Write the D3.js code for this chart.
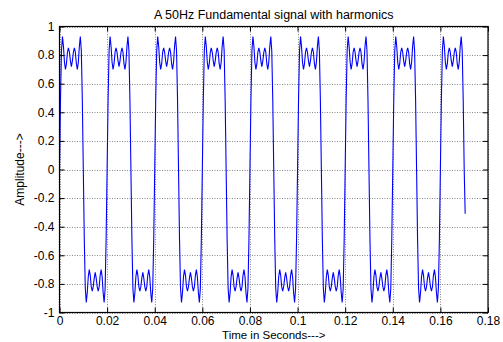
<!DOCTYPE html>
<html>
<head>
<meta charset="utf-8">
<script src="https://cdn.jsdelivr.net/npm/d3@7"></script>
<style>
  body { margin: 0; background: #fff; }
  text { font-family: "Liberation Sans", Arial, sans-serif; fill: #000; }
</style>
</head>
<body>
<svg id="chart" width="503" height="342"></svg>
<script>
// sample spacing of the signal (seconds)
var tStep = 1 / 2400;

// amplitude samples, one line per 20 ms period
var amplitude = [
  0,.49,.83,.93,.86,.75,.70,.74,.82,.85,.82,.76,.72,.76,.82,.85,.82,.74,.70,.75,.86,.93,.83,.49,0,-.49,-.83,-.93,-.86,-.75,-.70,-.74,-.82,-.85,-.82,-.76,-.72,-.76,-.82,-.85,-.82,-.74,-.70,-.75,-.86,-.93,-.83,-.49,
  0,.49,.83,.93,.86,.75,.70,.74,.82,.85,.82,.76,.72,.76,.82,.85,.82,.74,.70,.75,.86,.93,.83,.49,0,-.49,-.83,-.93,-.86,-.75,-.70,-.74,-.82,-.85,-.82,-.76,-.72,-.76,-.82,-.85,-.82,-.74,-.70,-.75,-.86,-.93,-.83,-.49,
  0,.49,.83,.93,.86,.75,.70,.74,.82,.85,.82,.76,.72,.76,.82,.85,.82,.74,.70,.75,.86,.93,.83,.49,0,-.49,-.83,-.93,-.86,-.75,-.70,-.74,-.82,-.85,-.82,-.76,-.72,-.76,-.82,-.85,-.82,-.74,-.70,-.75,-.86,-.93,-.83,-.49,
  0,.49,.83,.93,.86,.75,.70,.74,.82,.85,.82,.76,.72,.76,.82,.85,.82,.74,.70,.75,.86,.93,.83,.49,0,-.49,-.83,-.93,-.86,-.75,-.70,-.74,-.82,-.85,-.82,-.76,-.72,-.76,-.82,-.85,-.82,-.74,-.70,-.75,-.86,-.93,-.83,-.49,
  0,.49,.83,.93,.86,.75,.70,.74,.82,.85,.82,.76,.72,.76,.82,.85,.82,.74,.70,.75,.86,.93,.83,.49,0,-.49,-.83,-.93,-.86,-.75,-.70,-.74,-.82,-.85,-.82,-.76,-.72,-.76,-.82,-.85,-.82,-.74,-.70,-.75,-.86,-.93,-.83,-.49,
  0,.49,.83,.93,.86,.75,.70,.74,.82,.85,.82,.76,.72,.76,.82,.85,.82,.74,.70,.75,.86,.93,.83,.49,0,-.49,-.83,-.93,-.86,-.75,-.70,-.74,-.82,-.85,-.82,-.76,-.72,-.76,-.82,-.85,-.82,-.74,-.70,-.75,-.86,-.93,-.83,-.49,
  0,.49,.83,.93,.86,.75,.70,.74,.82,.85,.82,.76,.72,.76,.82,.85,.82,.74,.70,.75,.86,.93,.83,.49,0,-.49,-.83,-.93,-.86,-.75,-.70,-.74,-.82,-.85,-.82,-.76,-.72,-.76,-.82,-.85,-.82,-.74,-.70,-.75,-.86,-.93,-.83,-.49,
  0,.49,.83,.93,.86,.75,.70,.74,.82,.85,.82,.76,.72,.76,.82,.85,.82,.74,.70,.75,.86,.93,.83,.49,0,-.49,-.83,-.93,-.86,-.75,-.70,-.74,-.82,-.85,-.82,-.76,-.72,-.76,-.82,-.85,-.82,-.74,-.70,-.75,-.86,-.93,-.83,-.49,
  0,.49,.83,.93,.86,.75,.70,.74,.82,.85,.82,.76,.72,.76,.82,.85,.82,.74,.70,.75,.86,.93,.83,.49,0,
  -.31
];

var xTicks = [0, 0.02, 0.04, 0.06, 0.08, 0.1, 0.12, 0.14, 0.16, 0.18];
var xTickLabels = ['0', '0.02', '0.04', '0.06', '0.08', '0.1', '0.12', '0.14', '0.16', '0.18'];
var yTicks = [-1, -0.8, -0.6, -0.4, -0.2, 0, 0.2, 0.4, 0.6, 0.8, 1];
var yTickLabels = ['-1', '-0.8', '-0.6', '-0.4', '-0.2', '0', '0.2', '0.4', '0.6', '0.8', '1'];

var svg = d3.select('#chart');

var margin = { top: 26.5, bottom: 29.5, left: 59.5, right: 15 };
var width = 503, height = 342;

var xScale = d3.scaleLinear()
  .domain([0, 0.18])
  .range([margin.left, width - margin.right]);

var yScale = d3.scaleLinear()
  .domain([-1, 1])
  .range([height - margin.bottom, margin.top]);

var plotW = xScale.range()[1] - xScale.range()[0];
var plotH = yScale.range()[0] - yScale.range()[1];

// dotted grid
var grid = svg.append('g')
  .attr('stroke', '#888')
  .attr('stroke-width', 1)
  .attr('stroke-dasharray', '1,1.5');

grid.selectAll('.vgrid')
  .data(xTicks)
  .enter()
  .append('line')
  .attr('x1', function(d) { return Math.round(xScale(d)) + 0.5; })
  .attr('x2', function(d) { return Math.round(xScale(d)) + 0.5; })
  .attr('y1', yScale(1))
  .attr('y2', yScale(-1));

grid.selectAll('.hgrid')
  .data(yTicks)
  .enter()
  .append('line')
  .attr('y1', function(d) { return Math.round(yScale(d)) + 0.5; })
  .attr('y2', function(d) { return Math.round(yScale(d)) + 0.5; })
  .attr('x1', xScale(0))
  .attr('x2', xScale(0.18));

// signal
var line = d3.line()
  .x(function(d, i) { return xScale(i * tStep); })
  .y(function(d) { return yScale(d); });

svg.append('path')
  .datum(amplitude)
  .attr('d', line)
  .attr('fill', 'none')
  .attr('stroke', '#0000ff')
  .attr('stroke-width', 1.1);

// axes with inward ticks
function styleAxis(g) {
  g.select('.domain').remove();
  g.selectAll('.tick line').attr('stroke', '#000');
  g.selectAll('.tick text')
    .style('font-family', '"Liberation Sans", Arial, sans-serif')
    .style('font-size', '12px')
    .attr('fill', '#000');
}

svg.append('g')
  .attr('transform', 'translate(0,' + yScale(-1) + ')')
  .call(d3.axisBottom(xScale).tickValues(xTicks)
    .tickFormat(function(d, i) { return xTickLabels[i]; })
    .tickSizeInner(-5).tickSizeOuter(0).tickPadding(4))
  .call(styleAxis);

svg.append('g')
  .attr('transform', 'translate(0,' + yScale(1) + ')')
  .call(d3.axisTop(xScale).tickValues(xTicks)
    .tickFormat('').tickSizeInner(-5).tickSizeOuter(0))
  .call(styleAxis);

svg.append('g')
  .attr('transform', 'translate(' + xScale(0) + ',0)')
  .call(d3.axisLeft(yScale).tickValues(yTicks)
    .tickFormat(function(d, i) { return yTickLabels[i]; })
    .tickSizeInner(-5).tickSizeOuter(0).tickPadding(5))
  .call(styleAxis);

svg.append('g')
  .attr('transform', 'translate(' + xScale(0.18) + ',0)')
  .call(d3.axisRight(yScale).tickValues(yTicks)
    .tickFormat('').tickSizeInner(-5).tickSizeOuter(0))
  .call(styleAxis);

// box
svg.append('rect')
  .attr('x', xScale(0))
  .attr('y', yScale(1))
  .attr('width', plotW)
  .attr('height', plotH)
  .attr('fill', 'none')
  .attr('stroke', '#000')
  .attr('stroke-width', 1.2);

// title and axis labels
svg.append('text')
  .attr('x', xScale(0.09))
  .attr('y', 19)
  .attr('text-anchor', 'middle')
  .style('font-size', '12.5px')
  .text('A 50Hz Fundamental signal with harmonics');

svg.append('text')
  .attr('x', xScale(0.09))
  .attr('y', 338.5)
  .attr('text-anchor', 'middle')
  .style('font-size', '11.5px')
  .text('Time in Seconds--->');

svg.append('text')
  .attr('transform', 'translate(24,' + yScale(0) + ') rotate(-90)')
  .attr('text-anchor', 'middle')
  .style('font-size', '12px')
  .text('Amplitude--->');
</script>
</body>
</html>
